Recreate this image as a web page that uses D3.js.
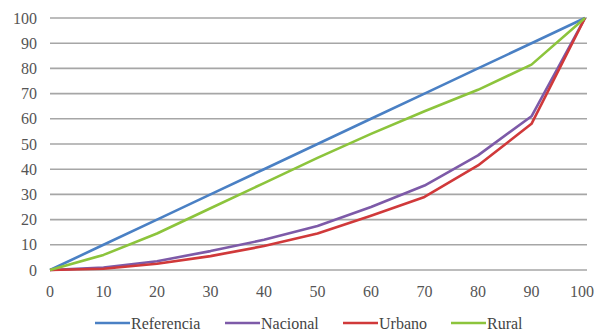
<!DOCTYPE html>
<html><head><meta charset="utf-8">
<script src="https://cdn.jsdelivr.net/npm/d3@7"></script>
<style>body{margin:0;background:#fff}svg{display:block}</style>
</head><body>
<script>
const xValues = [0,10,20,30,40,50,60,70,80,90,100];
const yTicks = [0,10,20,30,40,50,60,70,80,90,100];
const seriesNames = ["Referencia","Nacional","Urbano","Rural"];
const referencia = [0,10,20,30,40,50,60,70,80,90,100];
const nacional = [0,1,3.5,7.5,12,17.5,25,33.5,45.5,61,100];
const urbano = [0,0.5,2.5,5.5,9.5,14.5,21.5,29,41.5,58,100];
const rural = [0,6,14.5,24.5,34.5,44.5,54,63,71.5,81.5,100];
const colors = ["#4a80c4","#7d5aa8","#d0393a","#8cc43c"];

const W=594,H=333;
const svg=d3.select("body").append("svg").attr("width",W).attr("height",H);
const x=d3.scaleLinear().domain([0,100]).range([50,585]);
const y=d3.scaleLinear().domain([0,100]).range([270,18]);

// gridlines
svg.append("g").selectAll("line").data(yTicks).join("line")
  .attr("x1",x(0)).attr("x2",x(100)+2)
  .attr("y1",d=>y(d)).attr("y2",d=>y(d))
  .attr("stroke","#a6a6a6").attr("stroke-width",1.6);

// y labels
svg.append("g").selectAll("text").data(yTicks).join("text")
  .attr("x",37).attr("y",d=>y(d)+5.5)
  .attr("text-anchor","end")
  .style("font-family",d=>'"Liberation Serif"').attr("font-size",16)
  .attr("fill","#555").text(d=>d);

// x labels
svg.append("g").selectAll("text").data(xValues).join("text")
  .attr("x",d=>d===100?W:x(d)).attr("y",297)
  .attr("text-anchor",d=>d===100?"end":"middle")
  .style("font-family",d=>'"Liberation Serif"').attr("font-size",16)
  .attr("fill","#555").text(d=>d);

const data=[referencia,nacional,urbano,rural];
const line=d3.line().x((d,i)=>x(xValues[i])).y(d=>y(d));
svg.append("g").selectAll("path").data(data).join("path")
  .attr("d",d=>line(d)).attr("fill","none")
  .attr("stroke",(d,i)=>colors[i]).attr("stroke-width",2.6)
  .attr("stroke-linejoin","round");

// legend
const legX=[95,225,343,451];
const lg=svg.append("g").selectAll("g").data(seriesNames).join("g")
  .attr("transform",(d,i)=>`translate(${legX[i]},323)`);
lg.append("line").attr("x1",0).attr("x2",35).attr("y1",0).attr("y2",0)
  .attr("stroke",(d,i)=>colors[i]).attr("stroke-width",2.6);
lg.append("text").attr("x",36).attr("y",5.5)
  .style("font-family",d=>'"Liberation Serif"').attr("font-size",16)
  .attr("fill","#444").text(d=>d);
</script>
</body></html>
